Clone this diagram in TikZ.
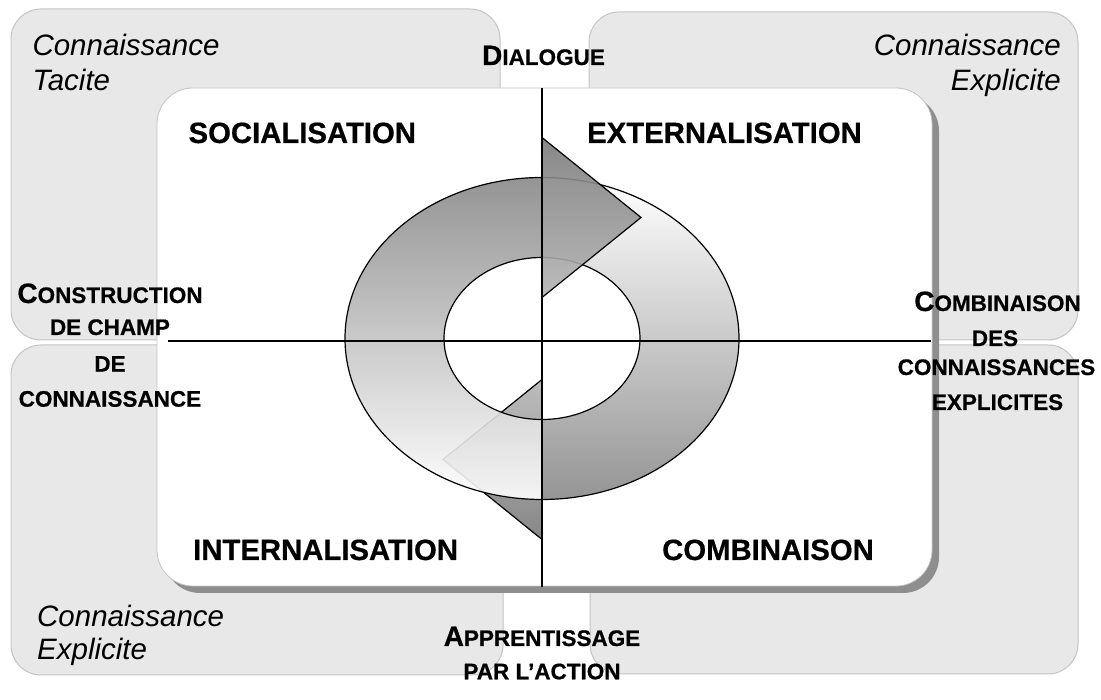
\documentclass[tikz,border=0pt]{standalone}
\usepackage{fontspec}
\setmainfont{Liberation Sans}[BoldFeatures={FakeBold=0.6}]
\definecolor{boxfill}{HTML}{E8E8E8}
\definecolor{boxline}{HTML}{C4C4C4}
\definecolor{shadowgray}{HTML}{8E8E8E}
\newcommand\SCword[2]{{\fontsize{28}{30}\selectfont #1}{\fontsize{22.5}{25}\selectfont #2}}
\newcommand\SCsmall[1]{{\fontsize{22.5}{25}\selectfont #1}}
\tikzset{
  zone/.style={fill=boxfill, draw=boxline, line width=1pt, rounded corners=30pt},
  quadlabel/.style={inner sep=0pt, font=\fontsize{29.3}{34}\selectfont\bfseries},
  kindlabel/.style={inner sep=0pt, font=\fontsize{29.5}{34}\selectfont\itshape},
  axislabel/.style={inner sep=0pt, font=\bfseries},
  ring/.style={draw=black, line width=1.2pt, line join=miter},
  axisline/.style={line width=1.5pt, draw=black},
}
\begin{document}
\begin{tikzpicture}[x=1pt,y=1pt]
\useasboundingbox (0,0) rectangle (1101,700);
\fill[white] (0,0) rectangle (1101,700);
% knowledge zones
\draw[zone] (11,360) rectangle (500,691);
\draw[zone] (589,360) rectangle (1078,688);
\draw[zone] (11,25) rectangle (503,355);
\draw[zone] (590,26) rectangle (1078,355);
% central panel with shadow
\fill[shadowgray, rounded corners=36pt] (164,107) rectangle (939,605);
\draw[fill=white, draw=boxline, line width=0.8pt, rounded corners=36pt] (157,114) rectangle (932,612);
% right arrow (right half + head pointing left at bottom)
\draw[ring, top color=white, bottom color=black!47]
  (542,522.5) arc[start angle=90,end angle=-90,x radius=197pt,y radius=161pt]
  -- (542,160.5) -- (443,240.5) -- (542,320.5) -- (542,280.5)
  arc[start angle=-90,end angle=90,x radius=98pt,y radius=81pt] -- cycle;
% left arrow (left half + head pointing right at top)
\draw[ring, top color=black!52, bottom color=white, fill opacity=0.9]
  (542,522.5) arc[start angle=90,end angle=270,x radius=197pt,y radius=161pt]
  -- (542,280.5)
  arc[start angle=270,end angle=90,x radius=98pt,y radius=81pt]
  -- (542,402.5) -- (641,482.5) -- (542,562.5) -- cycle;
% axes
\coordinate (vtop) at (542,612);
\coordinate (vbot) at (542,113);
\coordinate (hl) at (168,359);
\coordinate (hr) at (931,359);
\draw[axisline] (vtop) -- (vbot);
\draw[axisline] (hl) -- (hr);
% quadrant labels
\node[quadlabel, anchor=base west] (soc) at (188.4,557) {SOCIALISATION};
\node[quadlabel, anchor=base west] (ext) at (587,557) {EXTERNALISATION};
\node[quadlabel, anchor=base west] (int) at (193,140) {INTERNALISATION};
\node[quadlabel, anchor=base west] (comb) at (662,140) {COMBINAISON};
% knowledge kind labels
\node[kindlabel, anchor=base west] (tl1) at (32.3,644) {Connaissance};
\node[kindlabel, anchor=base west] (tl2) at (32.3,609) {Tacite};
\node[kindlabel, anchor=base east] (tr1) at (1061,644) {Connaissance};
\node[kindlabel, anchor=base east] (tr2) at (1061,609) {Explicite};
\node[kindlabel, anchor=base west] (bl1) at (37,73.3) {Connaissance};
\node[kindlabel, anchor=base west] (bl2) at (37,40) {Explicite};
% axis labels
\node[axislabel, anchor=base] (dia) at (543.5,635) {\SCword{D}{IALOGUE}};
\node[axislabel, anchor=base] (app1) at (542,54) {\SCword{A}{PPRENTISSAGE}};
\node[axislabel, anchor=base] (app2) at (542,20.7) {\SCsmall{PAR L’ACTION}};
\node[axislabel, anchor=base] (con1) at (110,397) {\SCword{C}{ONSTRUCTION}};
\node[axislabel, anchor=base] (con2) at (110,365) {\SCsmall{DE CHAMP}};
\node[axislabel, anchor=base] (con3) at (110,328.3) {\SCsmall{DE}};
\node[axislabel, anchor=base] (con4) at (110,293.3) {\SCsmall{CONNAISSANCE}};
\node[axislabel, anchor=base] (cmb1) at (997.5,389) {\SCword{C}{OMBINAISON}};
\node[axislabel, anchor=base] (cmb2) at (995,354) {\SCsmall{DES}};
\node[axislabel, anchor=base] (cmb3) at (996.5,325) {\SCsmall{CONNAISSANCES}};
\node[axislabel, anchor=base] (cmb4) at (997.5,290) {\SCsmall{EXPLICITES}};
\end{tikzpicture}
\end{document}
